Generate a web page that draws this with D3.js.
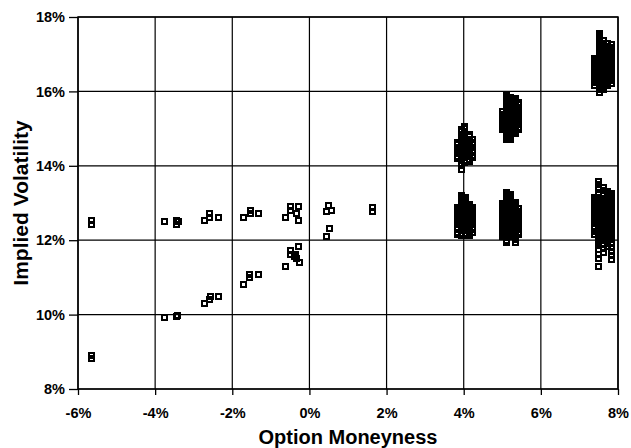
<!DOCTYPE html>
<html>
<head>
<meta charset="utf-8">
<script src="https://cdn.jsdelivr.net/npm/d3@7"></script>
<style>
  body { margin: 0; background: #fff; }
  text { font-family: Arial, 'Liberation Sans', sans-serif; font-weight: bold; fill: #000; }
</style>
</head>
<body>
<script>
// axis ticks (percent)
let xTicks = [-6, -4, -2, 0, 2, 4, 6, 8]
let yTicks = [8, 10, 12, 14, 16, 18]

// single option quotes: moneyness (%) and implied vol (%)
let looseMoneyness = [-5.65, -5.65, -5.65, -5.65, -3.75, -3.44, -3.44, -3.40, -2.73, -2.58, -2.58, -2.37,
    -3.75, -3.44, -3.42, -2.73, -2.59, -2.56, -2.37,
    -1.70, -1.54, -1.54, -1.33, -0.63, -0.48, -0.48, -0.29, -0.33, -0.29,
    0.50, 0.45, 0.58, 1.64, 1.64, 0.53, 0.45,
    -1.70, -1.56, -1.56, -1.33, -0.63, -0.49, -0.49, -0.40, -0.35, -0.33, -0.26, -0.29]
let looseVol = [12.54, 12.43, 8.90, 8.82, 12.51, 12.52, 12.41, 12.50, 12.52, 12.73, 12.61, 12.61,
    9.91, 9.94, 9.97, 10.29, 10.41, 10.49, 10.49,
    12.61, 12.80, 12.71, 12.71, 12.62, 12.91, 12.80, 12.91, 12.71, 12.52,
    12.94, 12.76, 12.80, 12.89, 12.78, 12.31, 12.11,
    10.80, 11.00, 11.09, 11.09, 11.29, 11.73, 11.62, 11.56, 11.62, 11.50, 11.40, 11.82]

// dense groups: [moneyness, [implied vols...]]
let groupHigh4 = [
    [3.84, [14.62, 14.56, 14.50, 14.44, 14.38, 14.32, 14.26, 14.20]],
    [3.93, [14.97, 14.91, 14.85, 14.79, 14.73, 14.67, 14.61, 14.55, 14.49, 14.43, 14.37, 14.31, 14.25, 14.19, 14.13, 14.07, 14.00, 13.90]],
    [4.03, [15.05, 14.99, 14.93, 14.87, 14.81, 14.75, 14.69, 14.63, 14.57, 14.51, 14.45, 14.39, 14.33, 14.27, 14.21, 14.15, 14.09]],
    [4.16, [14.84, 14.78, 14.72, 14.66, 14.60, 14.54, 14.48, 14.42, 14.36, 14.30, 14.24, 14.18, 14.11]],
    [4.23, [14.70, 14.63, 14.56, 14.49, 14.42, 14.35, 14.28, 14.21]]
]
let groupHigh5 = [
    [5.00, [15.45, 15.39, 15.33, 15.27, 15.21, 15.15, 15.09, 15.03, 14.97]],
    [5.10, [15.89, 15.83, 15.77, 15.71, 15.65, 15.59, 15.53, 15.47, 15.41, 15.35, 15.29, 15.23, 15.17, 15.11, 15.05, 14.99, 14.93, 14.87, 14.81, 14.75, 14.70]],
    [5.22, [15.84, 15.78, 15.72, 15.66, 15.60, 15.54, 15.48, 15.42, 15.36, 15.30, 15.24, 15.18, 15.12, 15.06, 15.00, 14.94, 14.88, 14.82, 14.76, 14.70]],
    [5.34, [15.81, 15.75, 15.69, 15.63, 15.57, 15.51, 15.45, 15.39, 15.33, 15.27, 15.21, 15.15, 15.09, 15.03, 14.97, 14.91, 14.86]],
    [5.42, [15.70, 15.64, 15.58, 15.52, 15.46, 15.40, 15.34, 15.28, 15.22, 15.16, 15.10, 15.04, 14.97]]
]
let groupHigh8 = [
    [7.40, [16.89, 16.83, 16.77, 16.71, 16.65, 16.59, 16.53, 16.47, 16.41, 16.35, 16.29, 16.23, 16.17]],
    [7.52, [17.56, 17.50, 17.44, 17.38, 17.32, 17.26, 17.20, 17.14, 17.08, 17.02, 16.96, 16.90, 16.84, 16.78, 16.72, 16.66, 16.60, 16.54, 16.48, 16.42, 16.36, 16.30, 16.24, 16.18, 16.12, 16.05, 15.97]],
    [7.62, [17.36, 17.30, 17.24, 17.18, 17.12, 17.06, 17.00, 16.94, 16.88, 16.82, 16.76, 16.70, 16.64, 16.58, 16.52, 16.46, 16.40, 16.34, 16.28, 16.22, 16.16, 16.10, 16.05]],
    [7.74, [17.28, 17.22, 17.16, 17.10, 17.04, 16.98, 16.92, 16.86, 16.80, 16.74, 16.68, 16.62, 16.56, 16.50, 16.44, 16.38, 16.32, 16.26, 16.20, 16.16]],
    [7.84, [17.25, 17.19, 17.13, 17.07, 17.01, 16.95, 16.89, 16.83, 16.77, 16.71, 16.65, 16.59, 16.53, 16.47, 16.41, 16.35, 16.29, 16.21]]
]
let groupLow4 = [
    [3.84, [12.89, 12.83, 12.77, 12.71, 12.65, 12.59, 12.53, 12.47, 12.41, 12.35, 12.29, 12.22, 12.14]],
    [3.95, [13.21, 13.15, 13.09, 13.03, 12.97, 12.91, 12.85, 12.79, 12.73, 12.67, 12.61, 12.55, 12.49, 12.43, 12.37, 12.31, 12.25, 12.19, 12.12]],
    [4.05, [13.16, 13.10, 13.04, 12.98, 12.92, 12.86, 12.80, 12.74, 12.68, 12.62, 12.56, 12.50, 12.44, 12.38, 12.32, 12.26, 12.19, 12.12]],
    [4.16, [12.97, 12.91, 12.85, 12.79, 12.73, 12.67, 12.61, 12.55, 12.49, 12.43, 12.37, 12.31, 12.25, 12.18, 12.12]],
    [4.24, [12.89, 12.83, 12.77, 12.71, 12.65, 12.59, 12.53, 12.47, 12.41, 12.35, 12.28, 12.20]]
]
let groupLow5 = [
    [5.00, [13.00, 12.94, 12.88, 12.82, 12.76, 12.70, 12.64, 12.58, 12.52, 12.46, 12.40, 12.34, 12.28, 12.22, 12.16, 12.09]],
    [5.10, [13.29, 13.23, 13.17, 13.11, 13.05, 12.99, 12.93, 12.87, 12.81, 12.75, 12.69, 12.63, 12.57, 12.51, 12.45, 12.39, 12.33, 12.27, 12.21, 12.15, 12.08, 12.00, 11.93]],
    [5.22, [13.24, 13.18, 13.12, 13.06, 13.00, 12.94, 12.88, 12.82, 12.76, 12.70, 12.64, 12.58, 12.52, 12.46, 12.40, 12.34, 12.28, 12.22, 12.16, 12.09]],
    [5.34, [13.02, 12.96, 12.90, 12.84, 12.78, 12.72, 12.66, 12.60, 12.54, 12.48, 12.42, 12.36, 12.30, 12.24, 12.18, 12.11, 12.02, 11.93]],
    [5.42, [12.84, 12.78, 12.72, 12.66, 12.60, 12.54, 12.48, 12.42, 12.36, 12.30, 12.22, 12.14]]
]
let groupLow8 = [
    [7.38, [13.16, 13.10, 13.04, 12.98, 12.92, 12.86, 12.80, 12.74, 12.68, 12.62, 12.56, 12.50, 12.44, 12.38, 12.32, 12.24, 12.14]],
    [7.50, [13.59, 13.50, 13.42, 13.35, 13.28, 13.22, 13.16, 13.10, 13.04, 12.98, 12.92, 12.86, 12.80, 12.74, 12.68, 12.62, 12.56, 12.50, 12.44, 12.38, 12.32, 12.26, 12.20, 12.13, 12.05, 11.95, 11.85, 11.74, 11.62, 11.50, 11.30]],
    [7.62, [13.42, 13.34, 13.26, 13.19, 13.13, 13.07, 13.01, 12.95, 12.89, 12.83, 12.77, 12.71, 12.65, 12.59, 12.53, 12.47, 12.41, 12.35, 12.29, 12.23, 12.16, 12.08, 11.98, 11.88, 11.77, 11.66]],
    [7.73, [13.32, 13.26, 13.20, 13.14, 13.08, 13.02, 12.96, 12.90, 12.84, 12.78, 12.72, 12.66, 12.60, 12.54, 12.48, 12.42, 12.36, 12.30, 12.24, 12.17, 12.09, 12.00, 11.90, 11.82]],
    [7.83, [13.26, 13.20, 13.14, 13.08, 13.02, 12.96, 12.90, 12.84, 12.78, 12.72, 12.66, 12.60, 12.54, 12.48, 12.42, 12.36, 12.30, 12.24, 12.17, 12.10, 12.02, 11.92, 11.81, 11.70, 11.59, 11.49]]
]

let opts = {
    width: 631,
    height: 448,
    left: 78,
    right: 618,
    top: 17,
    bottom: 389,
    markerSize: 5
}

let points = looseMoneyness.map((m, i) => ({ m: m, v: looseVol[i] }))
;[groupHigh4, groupHigh5, groupHigh8, groupLow4, groupLow5, groupLow8].forEach(group => {
    group.forEach(col => {
        col[1].forEach(v => points.push({ m: col[0], v: v }))
    })
})

let x = d3.scaleLinear().domain([-6, 8]).range([opts.left, opts.right])
let y = d3.scaleLinear().domain([8, 18]).range([opts.bottom, opts.top])

let svg = d3.select('body').append('svg')
    .attr('width', opts.width)
    .attr('height', opts.height)

svg.append('rect')
    .attr('width', opts.width)
    .attr('height', opts.height)
    .attr('fill', '#fff')

// grid
svg.append('g').selectAll('line.v').data(xTicks).enter().append('line')
    .attr('x1', d => x(d)).attr('x2', d => x(d))
    .attr('y1', opts.top).attr('y2', opts.bottom)
    .attr('stroke', '#000').attr('stroke-width', 1.2)
svg.append('g').selectAll('line.h').data(yTicks).enter().append('line')
    .attr('x1', opts.left).attr('x2', opts.right)
    .attr('y1', d => y(d)).attr('y2', d => y(d))
    .attr('stroke', '#000').attr('stroke-width', 1.2)

// axes
let xAxis = svg.append('g')
    .attr('transform', 'translate(0,' + opts.bottom + ')')
    .call(d3.axisBottom(x).tickValues(xTicks).tickSize(6).tickPadding(13).tickFormat(d => d + '%'))
let yAxis = svg.append('g')
    .attr('transform', 'translate(' + opts.left + ',0)')
    .call(d3.axisLeft(y).tickValues(yTicks).tickSize(9).tickPadding(4).tickFormat(d => d + '%'))

;[xAxis, yAxis].forEach(a => {
    a.select('.domain').remove()
    a.selectAll('line').attr('stroke', '#000').attr('stroke-width', 1.3)
    a.selectAll('text').attr('font-size', 14.5).attr('font-family', 'Arial, Liberation Sans, sans-serif')
        .attr('font-weight', 'bold').attr('fill', '#000')
})

// border
svg.append('rect')
    .attr('x', opts.left).attr('y', opts.top)
    .attr('width', opts.right - opts.left).attr('height', opts.bottom - opts.top)
    .attr('fill', 'none').attr('stroke', '#000').attr('stroke-width', 1.5)

// markers: open squares, crisp so the dense groups close up like the print
let s = opts.markerSize
svg.append('g')
    .attr('shape-rendering', 'crispEdges')
    .selectAll('rect').data(points).enter().append('rect')
    .attr('x', d => x(d.m) - s / 2)
    .attr('y', d => y(d.v) - s / 2)
    .attr('width', s)
    .attr('height', s)
    .attr('fill', 'none')
    .attr('stroke', '#000')
    .attr('stroke-width', 2)

// axis titles
svg.append('text')
    .attr('x', (opts.left + opts.right) / 2)
    .attr('y', 444)
    .attr('text-anchor', 'middle')
    .attr('font-size', 20)
    .text('Option Moneyness')
svg.append('text')
    .attr('transform', 'translate(28,' + ((opts.top + opts.bottom) / 2) + ') rotate(-90)')
    .attr('text-anchor', 'middle')
    .attr('font-size', 21)
    .text('Implied Volatility')
</script>
</body>
</html>
